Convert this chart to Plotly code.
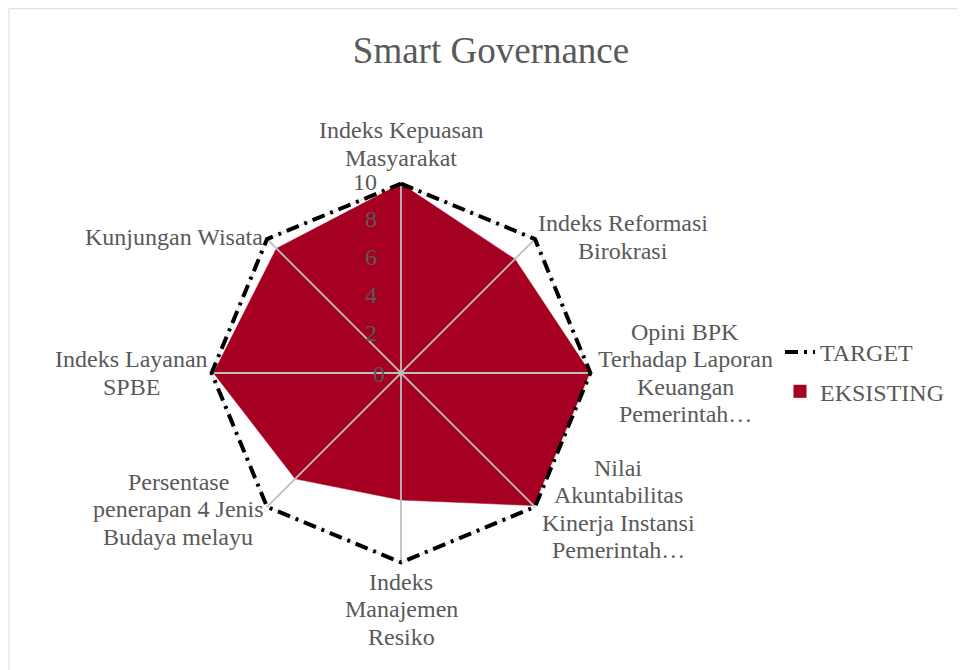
import plotly.graph_objects as go

kategori = [
    "Indeks Kepuasan<br>Masyarakat",
    "Indeks Reformasi<br>Birokrasi",
    "Opini BPK<br>Terhadap Laporan<br>Keuangan<br>Pemerintah…",
    "Nilai<br>Akuntabilitas<br>Kinerja Instansi<br>Pemerintah…",
    "Indeks<br>Manajemen<br>Resiko",
    "Persentase<br>penerapan 4 Jenis<br>Budaya melayu",
    "Indeks Layanan<br>SPBE",
    "Kunjungan Wisata",
]
target = [10, 10, 10, 10, 10, 10, 10, 10]
eksisting = [10, 8.5, 10, 9.9, 6.7, 7.9, 9.9, 9.3]
radial_ticks = [0, 2, 4, 6, 8, 10]

# posisi tengah blok label (piksel, dari kiri-atas)
label_pos = [(393, 136), (615, 229), (677, 365), (610, 501),
             (393, 601), (170, 501), (123, 365), (166, 229)]

W, H = 965, 670
abu = "#595959"
font_serif = "Liberation Serif"
rmax = 10.25
rmin = -0.02

fig = go.Figure()

fig.add_trace(go.Scatterpolar(
    r=eksisting + eksisting[:1], theta=kategori + kategori[:1],
    name="EKSISTING", mode="lines", fill="toself", showlegend=False,
    fillcolor="#A50021", line=dict(color="#A50021", width=0.5)))

# jari-jari abu-abu di atas area
for k in kategori:
    fig.add_trace(go.Scatterpolar(
        r=[0, 10], theta=[k, k], mode="lines",
        line=dict(color="#BFBFBF", width=1.8),
        showlegend=False, hoverinfo="skip"))

# garis tepi abu-abu pada nilai 10
fig.add_trace(go.Scatterpolar(
    r=[radial_ticks[-1]] * (len(kategori) + 1), theta=kategori + kategori[:1], mode="lines",
    line=dict(color="#D9D9D9", width=1), showlegend=False, hoverinfo="skip"))

fig.add_trace(go.Scatterpolar(
    r=target + target[:1], theta=kategori + kategori[:1],
    name="TARGET", mode="lines", legendgroup="a",
    line=dict(color="#000000", width=4, dash="13px,6px,3px,6px")))

# label sumbu radial (nilai 0 di pusat ditulis sebagai anotasi)
fig.add_trace(go.Scatterpolar(
    r=radial_ticks[1:], theta=[kategori[0]] * (len(radial_ticks) - 1), mode="text",
    text=[str(v) + "\u2003" for v in radial_ticks[1:]], textposition="middle left",
    textfont=dict(size=24, color=abu, family=font_serif), cliponaxis=False,
    showlegend=False, hoverinfo="skip"))

# kotak legenda untuk EKSISTING
fig.add_trace(go.Scatterpolar(
    r=[None], theta=[kategori[0]], name="EKSISTING", mode="markers", legendgroup="b",
    marker=dict(symbol="square", size=13, color="#A50021")))

anots = []
for teks, (px, py) in zip(kategori, label_pos):
    baris = teks.split("<br>")
    n = len(baris)
    for i, b in enumerate(baris):
        yy = py + (i - (n - 1) / 2) * 27.5
        anots.append(dict(text=b, x=px / W, y=1 - yy / H, xref="paper", yref="paper",
                          showarrow=False, xanchor="center", yanchor="middle",
                          font=dict(size=24, color=abu, family=font_serif)))

anots.append(dict(text=str(radial_ticks[0]), x=379 / W, y=1 - 366 / H, xref="paper", yref="paper",
                  showarrow=False, xanchor="right", yanchor="middle",
                  font=dict(size=24, color=abu, family=font_serif)))

R = 186 * (rmax - rmin) / 10 / 0.984
cx, cy = 393, 365

fig.update_layout(
    width=W, height=H,
    paper_bgcolor="white", plot_bgcolor="white",
    margin=dict(l=0, r=0, t=0, b=0),
    font=dict(family=font_serif, color=abu, size=24),
    title=dict(text="Smart Governance", x=483 / W, xanchor="center", y=1 - 42 / H, yanchor="middle",
               font=dict(size=37, color=abu, family=font_serif)),
    legend=dict(x=0.80, y=1 - 364 / H, xanchor="left", yanchor="middle",
                font=dict(size=24, color=abu), traceorder="grouped", tracegroupgap=5),
    polar=dict(
        domain=dict(x=[(cx - R) / W, (cx + R) / W],
                    y=[(H - cy - R) / H, (H - cy + R) / H]),
        gridshape="linear",
        bgcolor="white",
        angularaxis=dict(direction="clockwise", rotation=90, showgrid=False,
                         showline=False, ticks="", showticklabels=False),
        radialaxis=dict(range=[rmin, rmax], showgrid=False, showline=False,
                        ticks="", showticklabels=False),
    ),
    annotations=anots,
    shapes=[dict(type="rect", xref="paper", yref="paper", x0=0.001, y0=0.001, x1=0.999, y1=0.999,
                 line=dict(color="#D9D9D9", width=1))],
)

fig.write_html("out.html")
